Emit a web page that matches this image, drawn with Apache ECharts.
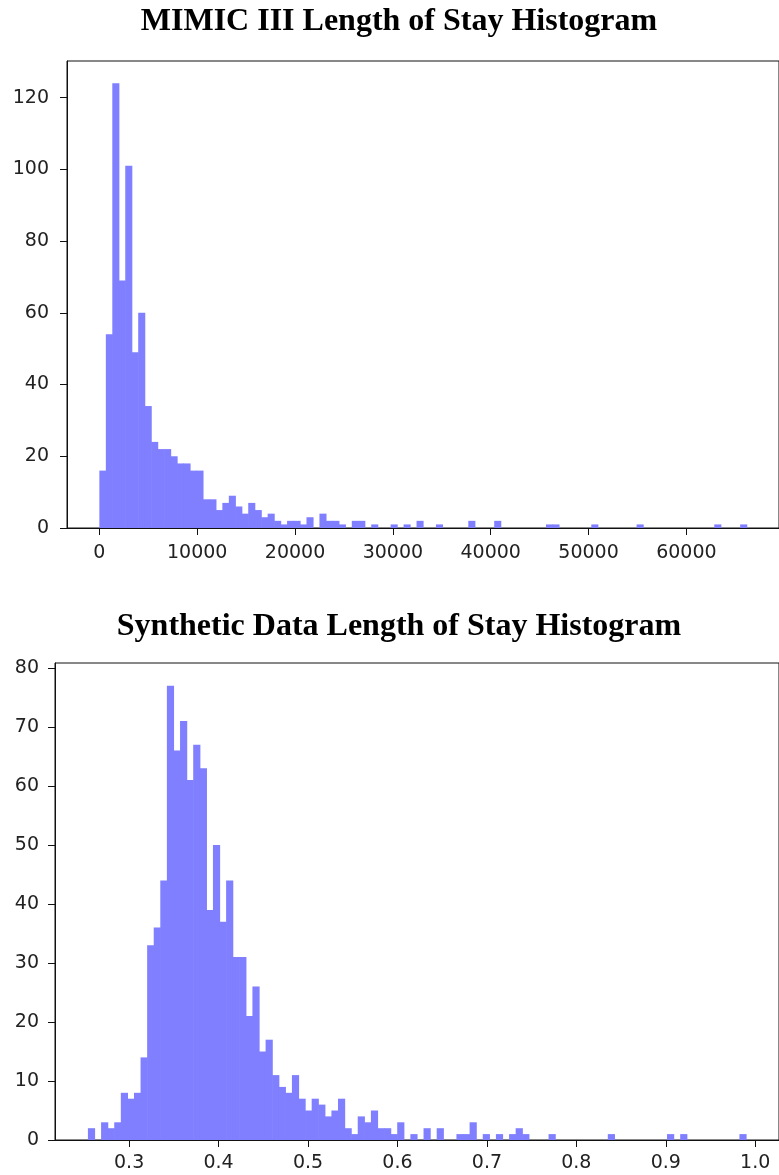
<!DOCTYPE html>
<html>
<head>
<meta charset="utf-8">
<script src="https://cdn.jsdelivr.net/npm/echarts@6/dist/echarts.min.js"></script>
<style>html,body{margin:0;padding:0;background:#fff}#c{width:779px;height:1175px}</style>
</head>
<body>
<div id="c"></div>
<script>
// ---- data ----
const mimicTitle = 'MIMIC III Length of Stay Histogram';
const synthTitle = 'Synthetic Data Length of Stay Histogram';

const mimicBinStart = 0;
const mimicBinWidth = 661.6;
const mimicCounts = [
  16,54,124,69,101,49,60,34,24,22,
  22,20,18,18,16,16,8,8,5,7,
  9,6,4,7,5,3,4,2,1,2,
  2,1,3,0,4,2,2,1,0,2,
  2,0,1,0,0,1,0,1,0,2,
  0,0,1,0,0,0,0,2,0,0,
  0,2,0,0,0,0,0,0,0,1,
  1,0,0,0,0,0,1,0,0,0,
  0,0,0,1,0,0,0,0,0,0,
  0,0,0,0,0,1,0,0,0,1
];
const mimicXTicks = [0,10000,20000,30000,40000,50000,60000];
const mimicYTicks = [0,20,40,60,80,100,120];

const synthBinStart = 0.2539;
const synthBinWidth = 0.007358;
const synthCounts = [
  2,0,3,2,3,8,7,8,14,33,
  36,44,77,66,71,61,67,63,39,50,
  37,44,31,31,21,26,15,17,11,9,
  8,11,7,5,7,6,4,5,7,2,
  1,4,3,5,2,2,1,3,0,1,
  0,2,0,2,0,0,1,1,3,0,
  1,0,1,0,1,2,1,0,0,0,
  1,0,0,0,0,0,0,0,0,1,
  0,0,0,0,0,0,0,0,1,0,
  1,0,0,0,0,0,0,0,0,1
];
const synthXTicks = [0.3,0.4,0.5,0.6,0.7,0.8,0.9,1.0];
const synthYTicks = [0,10,20,30,40,50,60,70,80];

// ---- build ----
function toBins(start, w, counts) {
  return counts.map((c, i) => [start + i * w, start + (i + 1) * w, c]);
}
function renderBar(params, api) {
  const x0 = api.value(0), x1 = api.value(1), y = api.value(2);
  if (!y) return null;
  const p0 = api.coord([x0, y]);
  const p1 = api.coord([x1, 0]);
  return {
    type: 'rect',
    shape: { x: p0[0], y: p0[1], width: p1[0] - p0[0] + 0.6, height: p1[1] - p0[1] },
    style: { fill: '#7f7fff' }
  };
}
const labelFont = { fontFamily: 'DejaVu Sans', fontSize: 19, color: '#222' };
const tickStyle = { show: true, length: 7, lineStyle: { color: '#111', width: 1 } };

function xAxis(gridIndex, min, max, ticks, fmt, margin) {
  return {
    type: 'value', gridIndex, min, max,
    axisLine: { show: true, onZero: false, lineStyle: { color: '#111', width: 1 } },
    axisTick: Object.assign({ customValues: ticks }, tickStyle),
    axisLabel: Object.assign({ customValues: ticks, formatter: fmt, margin }, labelFont),
    splitLine: { show: false }
  };
}
function yAxis(gridIndex, min, max, ticks, margin) {
  return {
    type: 'value', gridIndex, min, max,
    axisLine: { show: true, onZero: false, lineStyle: { color: '#111', width: 1 } },
    axisTick: Object.assign({ customValues: ticks }, tickStyle),
    axisLabel: Object.assign({ customValues: ticks, formatter: v => String(v), margin }, labelFont),
    splitLine: { show: false }
  };
}

const chart = echarts.init(document.getElementById('c'), null, { renderer: 'canvas' });
chart.setOption({
  backgroundColor: '#fff',
  animation: false,
  graphic: [
    { type: 'text', x: 399, y: 6, style: { text: mimicTitle, font: 'bold 32px "Liberation Serif", "Times New Roman", serif', fill: '#000', textAlign: 'center' } },
    { type: 'text', x: 399, y: 611, style: { text: synthTitle, font: 'bold 32px "Liberation Serif", "Times New Roman", serif', fill: '#000', textAlign: 'center' } }
  ],
  grid: [
    { left: 67, top: 61, width: 721, height: 467, show: true, borderColor: '#111', borderWidth: 1, backgroundColor: 'transparent' },
    { left: 55, top: 663, width: 732, height: 477, show: true, borderColor: '#111', borderWidth: 1, backgroundColor: 'transparent' }
  ],
  xAxis: [
    xAxis(0, -3308, 69468, mimicXTicks, v => String(Math.round(v)), 16),
    xAxis(1, 0.2171, 1.0266, synthXTicks, v => Number(v).toFixed(1), 14)
  ],
  yAxis: [
    yAxis(0, 0, 130.2, mimicYTicks, 18),
    yAxis(1, 0, 80.85, synthYTicks, 16)
  ],
  series: [
    { type: 'custom', xAxisIndex: 0, yAxisIndex: 0, renderItem: renderBar, data: toBins(mimicBinStart, mimicBinWidth, mimicCounts), encode: { x: [0, 1], y: 2 }, clip: true },
    { type: 'custom', xAxisIndex: 1, yAxisIndex: 1, renderItem: renderBar, data: toBins(synthBinStart, synthBinWidth, synthCounts), encode: { x: [0, 1], y: 2 }, clip: true }
  ]
});
</script>
</body>
</html>
